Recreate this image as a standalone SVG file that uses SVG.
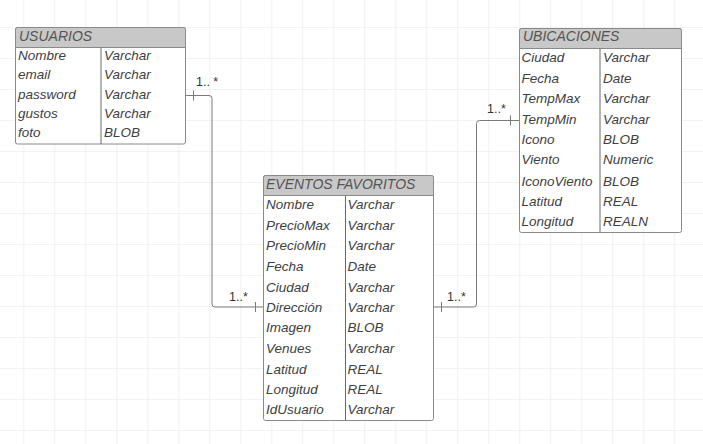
<svg xmlns="http://www.w3.org/2000/svg" width="703" height="444" viewBox="0 0 703 444">
<defs>
<pattern id="grid" x="23.3" y="27" width="31" height="31" patternUnits="userSpaceOnUse">
<path d="M0 0V31M0 0H31" fill="none" stroke="#e6e6e6" stroke-width="1.2"/>
</pattern>
</defs>
<style>
.t{font-family:"Liberation Sans",Arial,sans-serif;font-style:italic;font-size:13.5px;fill:#404040}
.h{font-family:"Liberation Sans",Arial,sans-serif;font-style:italic;font-size:14px;fill:#555}
.box{fill:#fff;stroke:#8a8a8a;stroke-width:1}
.hd{fill:#c8c8c8;stroke:#8a8a8a;stroke-width:1}
.div{stroke:#6a6a6a;stroke-width:1}
.c{fill:none;stroke:#7a7a7a;stroke-width:1}
.lb{font-family:"Liberation Sans",Arial,sans-serif;font-size:12.5px;fill:#333}
</style>
<rect width="703" height="444" fill="#fff"/>
<rect width="703" height="444" fill="url(#grid)"/>
<g id="connectors">
<path class="c" d="M185.5 95.5H209a3 3 0 0 1 3 3V304a3 3 0 0 0 3 3H263.5"/>
<line class="c" x1="193.5" y1="90.5" x2="193.5" y2="100.5"/>
<line class="c" x1="255.5" y1="302" x2="255.5" y2="312"/>
<text class="lb" x="196" y="86">1.. *</text>
<text class="lb" x="229" y="301">1..*</text>
<path class="c" d="M433.5 307H473.5a3 3 0 0 0 3-3V123.5a3 3 0 0 1 3-3H519.5"/>
<line class="c" x1="441.5" y1="302" x2="441.5" y2="312"/>
<line class="c" x1="510.5" y1="115.5" x2="510.5" y2="125.5"/>
<text class="lb" x="447" y="301">1..*</text>
<text class="lb" x="487" y="113">1..*</text>
</g>
<g id="usuarios">
<rect class="box" x="15.5" y="27.5" width="170" height="116.5" rx="2"/>
<path class="hd" d="M17.5 27.5H183.5a2 2 0 0 1 2 2V47.5H15.5V29.5a2 2 0 0 1 2-2z"/>
<line class="div" x1="101" y1="47.5" x2="101" y2="144"/>
<text class="h" x="19" y="40.5">USUARIOS</text>
<text class="t" x="18" y="59.5">Nombre</text><text class="t" x="104" y="59.5">Varchar</text>
<text class="t" x="18" y="79">email</text><text class="t" x="104" y="79">Varchar</text>
<text class="t" x="18" y="98.5">password</text><text class="t" x="104" y="98.5">Varchar</text>
<text class="t" x="18" y="117.5">gustos</text><text class="t" x="104" y="117.5">Varchar</text>
<text class="t" x="18" y="137">foto</text><text class="t" x="104" y="137">BLOB</text>
</g>
<g id="ubicaciones">
<rect class="box" x="519.5" y="28.5" width="162" height="204" rx="2"/>
<path class="hd" d="M521.5 28.5H679.5a2 2 0 0 1 2 2V48.5H519.5V30.5a2 2 0 0 1 2-2z"/>
<line class="div" x1="600" y1="48.5" x2="600" y2="232.5"/>
<text class="h" x="523" y="41">UBICACIONES</text>
<text class="t" x="521.5" y="61.5">Ciudad</text><text class="t" x="603" y="61.5">Varchar</text>
<text class="t" x="521.5" y="82.5">Fecha</text><text class="t" x="603" y="82.5">Date</text>
<text class="t" x="521.5" y="103">TempMax</text><text class="t" x="603" y="103">Varchar</text>
<text class="t" x="521.5" y="123.5">TempMin</text><text class="t" x="603" y="123.5">Varchar</text>
<text class="t" x="521.5" y="144">Icono</text><text class="t" x="603" y="144">BLOB</text>
<text class="t" x="521.5" y="164">Viento</text><text class="t" x="603" y="164">Numeric</text>
<text class="t" x="521.5" y="185.5">IconoViento</text><text class="t" x="603" y="185.5">BLOB</text>
<text class="t" x="521.5" y="205.5">Latitud</text><text class="t" x="603" y="205.5">REAL</text>
<text class="t" x="521.5" y="226">Longitud</text><text class="t" x="603" y="226">REALN</text>
</g>
<g id="eventos">
<rect class="box" x="263.5" y="175.5" width="170" height="245" rx="2"/>
<path class="hd" d="M265.5 175.5H431.5a2 2 0 0 1 2 2V195.5H263.5V177.5a2 2 0 0 1 2-2z"/>
<line class="div" x1="345.5" y1="195.5" x2="345.5" y2="420.5"/>
<text class="h" x="266" y="189">EVENTOS FAVORITOS</text>
<text class="t" x="266" y="209">Nombre</text><text class="t" x="347.5" y="209">Varchar</text>
<text class="t" x="266" y="229.5">PrecioMax</text><text class="t" x="347.5" y="229.5">Varchar</text>
<text class="t" x="266" y="250">PrecioMin</text><text class="t" x="347.5" y="250">Varchar</text>
<text class="t" x="266" y="270.5">Fecha</text><text class="t" x="347.5" y="270.5">Date</text>
<text class="t" x="266" y="291.5">Ciudad</text><text class="t" x="347.5" y="291.5">Varchar</text>
<text class="t" x="266" y="311.5">Dirección</text><text class="t" x="347.5" y="311.5">Varchar</text>
<text class="t" x="266" y="332">Imagen</text><text class="t" x="347.5" y="332">BLOB</text>
<text class="t" x="266" y="352.5">Venues</text><text class="t" x="347.5" y="352.5">Varchar</text>
<text class="t" x="266" y="373.5">Latitud</text><text class="t" x="347.5" y="373.5">REAL</text>
<text class="t" x="266" y="394">Longitud</text><text class="t" x="347.5" y="394">REAL</text>
<text class="t" x="266" y="414">IdUsuario</text><text class="t" x="347.5" y="414">Varchar</text>
</g>
</svg>
